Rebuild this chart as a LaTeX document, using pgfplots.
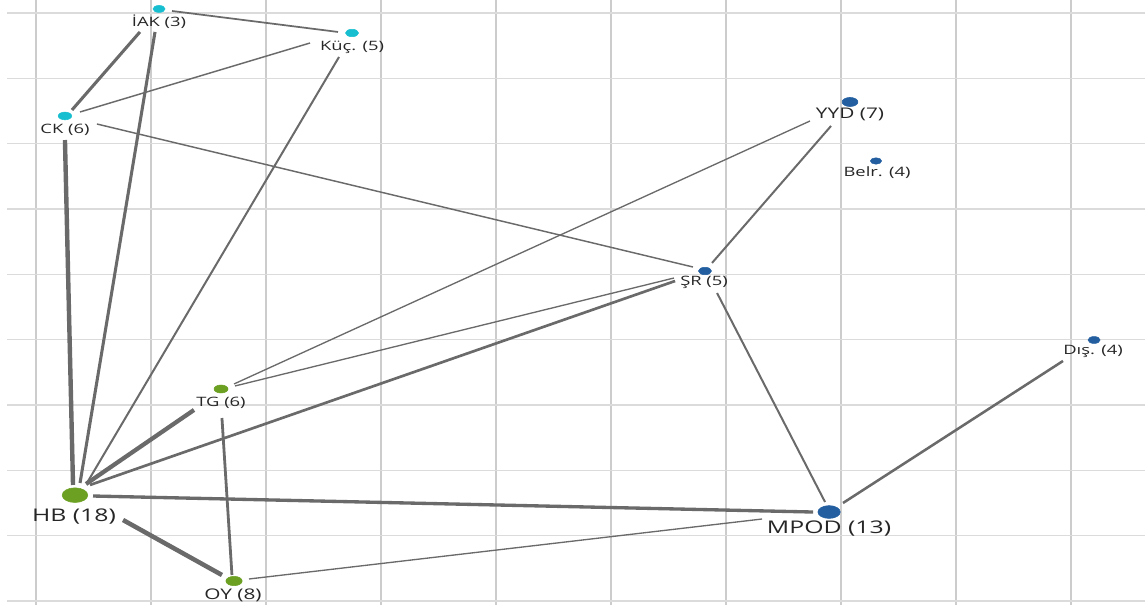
\documentclass[border=0pt]{standalone}
\usepackage{fontspec}
\setmainfont{Open Sans}
\usepackage{graphicx}
\usepackage{pgfplots}
\usepackage{pgfplotstable}
\pgfplotsset{compat=1.18}

\definecolor{nodecyan}{HTML}{17BECF}
\definecolor{nodeblue}{HTML}{235FA0}
\definecolor{nodegreen}{HTML}{6BA023}
\definecolor{edgegray}{HTML}{6A6A6A}
\definecolor{labeltext}{HTML}{262626}

% node positions (grid units) and dot radius (pt)
\pgfplotstableread{
x     y     r
1.070 9.062 2.6
2.748 8.694 2.8
0.252 7.424 2.9
}\cyannodes
\pgfplotstableread{
x     y     r
7.078 7.638 3.4
7.304 6.735 2.4
5.817 5.051 2.8
9.200 3.995 2.6
6.896 1.362 4.8
}\bluenodes
\pgfplotstableread{
x     y     r
1.609 3.245 3.0
0.339 1.620 5.5
1.722 0.306 3.5
}\greennodes

% label centres
\pgfplotstableread[col sep=comma]{
x,y,lab
1.070,8.863,İAK (3)
2.748,8.480,Küç. (5)
0.252,7.210,CK (6)
7.313,6.551,Belr. (4)
5.809,4.883,ŞR (5)
9.191,3.827,Dış. (4)
1.609,3.031,TG (6)
}\smalllabels
\pgfplotstableread[col sep=comma]{
x,y,lab
7.078,7.454,YYD (7)
1.713,0.092,OY (8)
}\midlabels
\pgfplotstableread[col sep=comma]{
x,y,lab
0.330,1.286,HB (18)
6.896,1.102,MPOD (13)
}\biglabels

\pgfplotsset{
  edge/.style={edgegray, no marks, line width=#1},
  dots/.style={scatter, only marks, mark=*,
    scatter/use mapped color={draw=#1, fill=#1},
    visualization depends on={\thisrow{r} \as \msize},
    scatter/@pre marker code/.append style={/tikz/mark size=\msize, /tikz/xscale=1.75}},
  labels/.style={draw=none, mark=none, point meta=explicit symbolic,
    nodes near coords={\scalebox{1.42}[1]{\pgfplotspointmeta}},
    nodes near coords style={anchor=center, inner sep=0pt, text=labeltext,
      font=\fontsize{#1}{#1}\selectfont}},
}

\begin{document}
\begin{tikzpicture}
\begin{axis}[
  scale only axis, width=853.5pt, height=453.75pt,
  xmin=-0.252, xmax=9.643, ymin=-0.061, ymax=9.199,
  xtick={0,...,9}, ytick={0,...,9}, grid=major,
  x grid style={color=gray!40, line width=1.1pt},
  y grid style={color=gray!28, line width=1.1pt},
  axis line style={draw=none}, major tick length=0pt,
  xticklabels={}, yticklabels={},
  clip=false,
]
% edges
\addplot[edge=1.3pt] coordinates {(1.183,9.031) (2.626,8.710)}; % IAK-Kuc
\addplot[edge=2.3pt] coordinates {(0.904,8.710) (0.313,7.516)}; % IAK-CK
\addplot[edge=2.3pt] coordinates {(1.035,8.710) (0.383,1.806)}; % IAK-HB
\addplot[edge=1.1pt] coordinates {(2.383,8.541) (0.383,7.485)}; % Kuc-CK
\addplot[edge=1.5pt] coordinates {(2.635,8.327) (0.443,1.806)}; % Kuc-HB
\addplot[edge=3.3pt] coordinates {(0.252,7.056) (0.322,1.776)}; % CK-HB
\addplot[edge=1.1pt] coordinates {(0.530,7.301) (5.713,5.112)}; % CK-SR
\addplot[edge=1.0pt] coordinates {(6.730,7.347) (1.722,3.322)}; % YYD-TG
\addplot[edge=1.5pt] coordinates {(6.913,7.271) (5.878,5.174)}; % YYD-SR
\addplot[edge=1.0pt] coordinates {(5.548,4.944) (1.730,3.291)}; % SR-TG
\addplot[edge=2.0pt] coordinates {(5.557,4.898) (0.470,1.776)}; % SR-HB
\addplot[edge=1.5pt] coordinates {(5.922,4.714) (6.861,1.515)}; % SR-MPOD
\addplot[edge=1.9pt] coordinates {(8.930,3.674) (7.017,1.500)}; % Dis-MPOD
\addplot[edge=3.2pt] coordinates {(1.374,2.924) (0.435,1.791)}; % TG-HB
\addplot[edge=2.1pt] coordinates {(1.617,2.801) (1.704,0.398)}; % TG-OY
\addplot[edge=2.5pt] coordinates {(0.496,1.607) (6.757,1.362)}; % HB-MPOD
\addplot[edge=3.4pt] coordinates {(0.757,1.240) (1.617,0.398)}; % HB-OY
\addplot[edge=1.0pt] coordinates {(1.852,0.337) (6.313,1.255)}; % OY-MPOD
% nodes
\addplot[dots=nodecyan] table {\cyannodes};
\addplot[dots=nodeblue] table {\bluenodes};
\addplot[dots=nodegreen] table {\greennodes};
% labels
\addplot[labels=9.7pt] table[x=x, y=y, meta=lab] {\smalllabels};
\addplot[labels=11pt] table[x=x, y=y, meta=lab] {\midlabels};
\addplot[labels=13.1pt] table[x=x, y=y, meta=lab] {\biglabels};
\end{axis}
\pgfresetboundingbox
\path (current axis.south west) ++(-5.25pt,-3.75pt) rectangle (current axis.north east);
\end{tikzpicture}
\end{document}
